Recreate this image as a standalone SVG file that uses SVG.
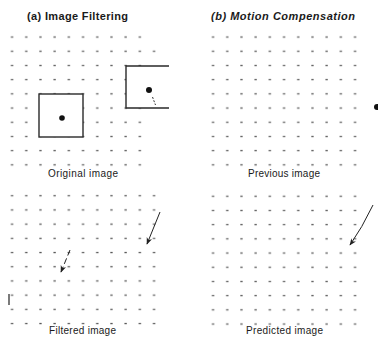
<svg xmlns="http://www.w3.org/2000/svg" width="378" height="338" viewBox="0 0 378 338">
<style>
.t{font-family:"Liberation Sans",Arial,sans-serif;fill:#1a1a1a}
.title{font-size:11px;font-weight:bold}
.lab{font-size:10px}
.box{fill:#fff;stroke:#2a2a2a;stroke-width:1.4}
.arr{fill:none;stroke:#222;stroke-width:1}
.dot{fill:#111}
</style>
<defs>
<pattern id="gL" patternUnits="userSpaceOnUse" x="4.9" y="29.9" width="14.2" height="14.2"><rect x="6" y="6.5" width="2.3" height="1.3" fill="#555"/></pattern>
<pattern id="gR" patternUnits="userSpaceOnUse" x="205.9" y="29.9" width="14.2" height="14.2"><rect x="6" y="6.5" width="2.3" height="1.3" fill="#555"/></pattern>
<pattern id="gLB" patternUnits="userSpaceOnUse" x="4.9" y="32.4" width="14.2" height="14.2"><rect x="6" y="6.5" width="2.3" height="1.3" fill="#555"/></pattern>
<pattern id="gRB" patternUnits="userSpaceOnUse" x="205.9" y="32.9" width="14.2" height="14.2"><rect x="6" y="6.5" width="2.3" height="1.3" fill="#555"/></pattern>
<marker id="ah" viewBox="0 0 10 10" refX="9" refY="5" markerWidth="7" markerHeight="7" orient="auto"><path d="M0,1 L10,5 L0,9 L3,5 Z" fill="#222"/></marker>
</defs>
<g id="titles">
<text class="t title" x="27" y="20" textLength="101">(a) Image Filtering</text>
<text class="t title" x="211" y="20" font-style="italic" textLength="144">(b) Motion Compensation</text>
</g>
<g id="original">
<rect x="5" y="30" width="142" height="142" fill="url(#gL)"/>
<rect x="146" y="44" width="14.2" height="14.2" fill="url(#gL)"/>
<rect class="box" x="39" y="94" width="44" height="43"/>
<circle class="dot" cx="62" cy="118" r="2.8"/>
<path class="box" d="M169,66 H126 V108 H169" style="fill:#fff"/>
<circle class="dot" cx="149" cy="90" r="3"/>
<path d="M152.5,97 L155.5,105" stroke="#333" stroke-width="1" stroke-dasharray="2,1.5"/>
<text class="t lab" x="48" y="177" textLength="70">Original image</text>
</g>
<g id="previous">
<rect x="206" y="30" width="156" height="142" fill="url(#gR)"/>
<circle class="dot" cx="377" cy="107" r="3"/>
<text class="t lab" x="248" y="177" textLength="72">Previous image</text>
</g>
<g id="filtered">
<rect x="5" y="188" width="156" height="142" fill="url(#gLB)"/>
<path d="M9,294 V305" stroke="#333" stroke-width="1.3"/>
<text class="t lab" x="49" y="334" textLength="67">Filtered image</text>
</g>
<g id="predicted">
<rect x="206" y="189" width="156" height="142" fill="url(#gRB)"/>
<text class="t lab" x="246" y="334" textLength="77">Predicted image</text>
</g>
<g id="connectors">
<path class="arr" d="M160,212 L147,244" marker-end="url(#ah)"/>
<path class="arr" d="M70,250 L61,272" stroke-dasharray="6,3" marker-end="url(#ah)"/>
<path class="arr" d="M373,205 Q362,228 350,245" marker-end="url(#ah)"/>
</g>
</svg>
